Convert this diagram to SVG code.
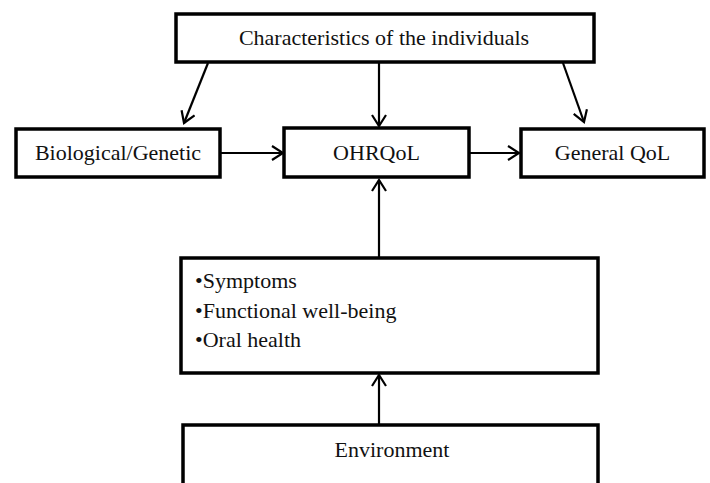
<svg xmlns="http://www.w3.org/2000/svg" width="710" height="483" viewBox="0 0 710 483">
<defs>
<style>
.box{fill:#fff;stroke:#000;stroke-width:3.5}
.t{font-family:"Liberation Serif","Times New Roman",serif;font-size:22px;fill:#111}
.c{text-anchor:middle}
.a{stroke:#000;stroke-width:2.2;fill:none;marker-end:url(#ah)}
</style>
<marker id="ah" markerUnits="userSpaceOnUse" markerWidth="16" markerHeight="16" viewBox="0 0 16 16" refX="14" refY="8" orient="auto">
<path d="M3,1 L14,8 L3,15" fill="none" stroke="#000" stroke-width="2.2"/>
</marker>
</defs>
<rect width="710" height="483" fill="#fff"/>
<g id="connectors">
<line class="a" x1="208" y1="63" x2="184" y2="123"/>
<line class="a" x1="379" y1="63" x2="379" y2="126"/>
<line class="a" x1="563" y1="63" x2="584" y2="122"/>
<line class="a" x1="221" y1="153" x2="283" y2="153"/>
<line class="a" x1="470" y1="153" x2="519" y2="153"/>
<line class="a" x1="379" y1="257" x2="379" y2="180"/>
<line class="a" x1="379" y1="424" x2="379" y2="375"/>
</g>
<g id="characteristics">
<rect class="box" x="176" y="14" width="418" height="48"/>
<text class="t c" x="384" y="45">Characteristics of the individuals</text>
</g>
<g id="biological">
<rect class="box" x="16" y="129" width="204" height="48"/>
<text class="t c" x="118" y="160">Biological/Genetic</text>
</g>
<g id="ohrqol">
<rect class="box" x="284" y="128" width="185" height="49"/>
<text class="t c" x="376.5" y="160">OHRQoL</text>
</g>
<g id="generalqol">
<rect class="box" x="521" y="129" width="183" height="48"/>
<text class="t c" x="612.5" y="160">General QoL</text>
</g>
<g id="symptoms">
<rect class="box" x="181" y="258" width="417" height="115"/>
<text class="t" x="195" y="288">•Symptoms</text>
<text class="t" x="195" y="318">•Functional well-being</text>
<text class="t" x="195" y="347">•Oral health</text>
</g>
<g id="environment">
<rect class="box" x="183" y="425" width="415" height="70"/>
<text class="t c" x="392" y="457">Environment</text>
</g>
</svg>
